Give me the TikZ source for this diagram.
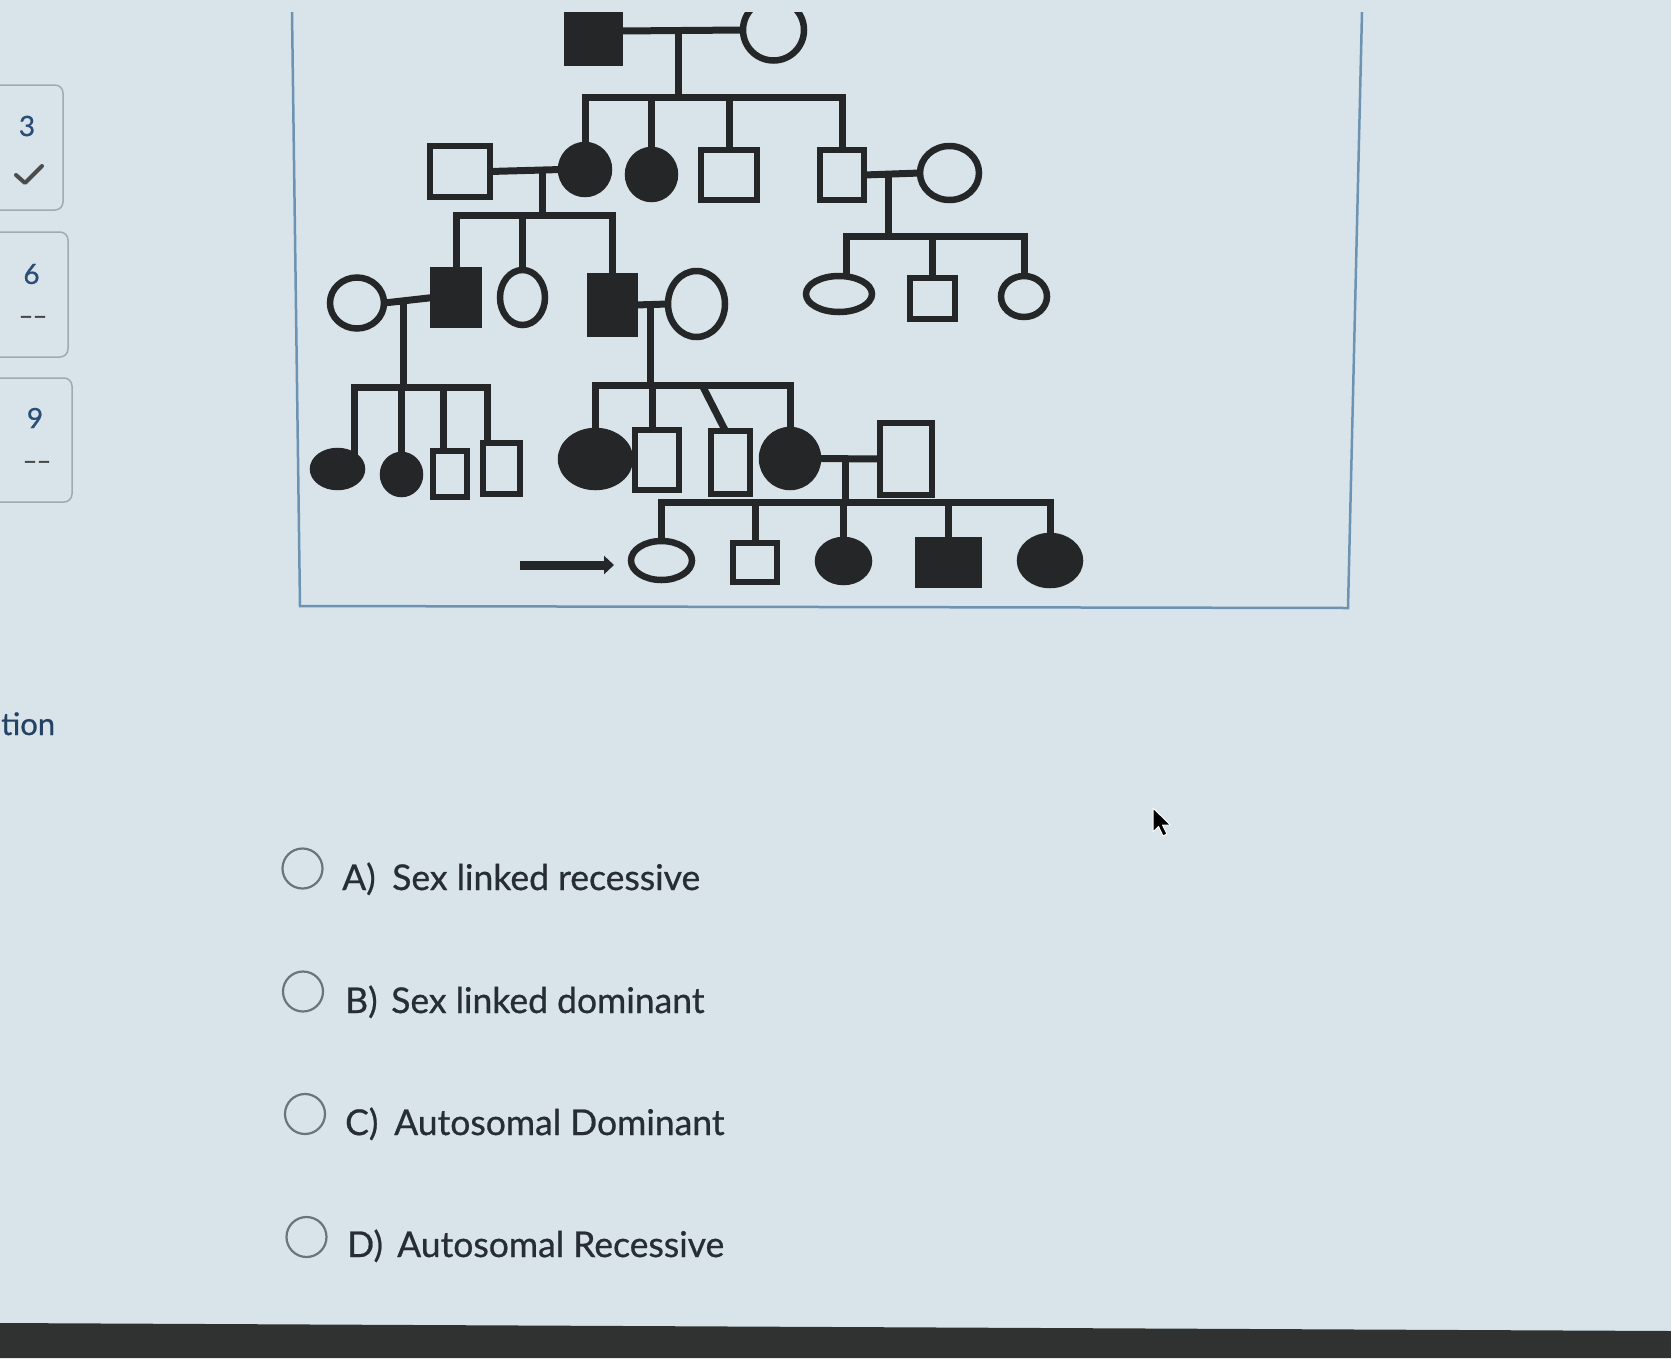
\documentclass[tikz,border=0pt]{standalone}
\usepackage{fontspec}
\setmainfont{Lato}
\newfontfamily\heavyfont[FakeBold=0.7]{Lato}
\newfontfamily\dashfont[FakeBold=2.5]{Lato}
\usetikzlibrary{arrows.meta,shapes.geometric}

\definecolor{screen}{RGB}{217,228,234}
\definecolor{ink}{RGB}{36,38,40}
\definecolor{frameblue}{RGB}{108,148,178}
\definecolor{qtext}{RGB}{38,45,52}
\definecolor{radio}{RGB}{108,116,122}
\definecolor{navnum}{RGB}{42,78,118}
\definecolor{navbox}{RGB}{160,170,176}
\definecolor{bar}{RGB}{47,50,48}

\tikzset{
    sym/.style={draw=ink, line width=6.5pt, inner sep=0pt, outer sep=0pt},
    male/.style={sym, rectangle, fill=screen},
    female/.style={sym, ellipse, fill=screen},
    aff/.style={fill=ink},
    wh/.style 2 args={minimum width=#1pt, minimum height=#2pt},
    ped/.style={draw=ink, line width=7pt},
    proband/.style={draw=ink, line width=9pt, -{Triangle[length=10pt,width=18pt]}},
    radiobtn/.style={draw=radio, line width=2.2pt, circle, minimum size=40pt, inner sep=0pt},
    optlbl/.style={anchor=base west, inner sep=0pt, text=qtext, font=\heavyfont\fontsize{35.5}{42}\selectfont},
    navtxt/.style={inner sep=0pt, text=navnum, font=\heavyfont\fontsize{28}{32}\selectfont},
    navdash/.style={inner sep=0pt, text=black!72, font=\dashfont\fontsize{24}{30}\selectfont}
}

\begin{document}
\begin{tikzpicture}[x=1pt,y=-1pt]
    % Screen
    \fill[screen] (0,0) rectangle (1671,1358);
    \useasboundingbox (0,0) rectangle (1671,1358);
    \fill[bar] (0,1323) -- (1671,1331) -- (1671,1358) -- (0,1358) -- cycle;

    % Side bar
    \draw[navbox, line width=1.5pt, rounded corners=8pt] (-10,85) rectangle (63,210);
    \draw[navbox, line width=1.5pt, rounded corners=8pt] (-10,232) rectangle (68,357);
    \draw[navbox, line width=1.5pt, rounded corners=8pt] (-10,378) rectangle (72,502);
    \node[navtxt] (nThree) at (27,126) {3};
    \draw[black!70, line width=4pt, line cap=round, line join=round] (16,175) -- (25,183) -- (42,166);
    \node[navtxt] (nSix) at (31.5,274) {6};
    \node[navdash] (dSix) at (33,320) {\textendash\textendash};
    \node[navtxt] (nNine) at (35,418) {9};
    \node[navdash] (dNine) at (37,465) {\textendash\textendash};
    \node[anchor=base west, inner sep=0pt, text=navnum!85!black, font=\heavyfont\fontsize{31}{36}\selectfont] (tion) at (1,735) {tion};

    % Pedigree
    \begin{scope}
    \clip (0,12) rectangle (1671,700);
        % frame
        \draw[frameblue, line width=2.5pt] (292,12) -- (300,606) -- (1348,608) -- (1362,12);

        % I
        \node[male, aff, wh={52}{63}] (gIa) at (593.5,31) {};
        \node[female, wh={61}{61}] (gIb) at (773.5,30) {};

        % II
        \node[male, wh={60}{51}] (gIIa) at (460,171.5) {};
        \node[female, aff, wh={48}{49}] (gIIb) at (585,169.5) {};
        \node[female, aff, wh={47}{49}] (gIIc) at (651.5,174.5) {};
        \node[male, wh={56}{50}] (gIId) at (729,175) {};
        \node[male, wh={44}{50}] (gIIe) at (842,175) {};
        \node[female, wh={59}{54}] (gIIf) at (949.5,173) {};

        % III
        \node[female, wh={54}{51}] (gIIIa) at (357,303) {};
        \node[male, aff, wh={46}{55}] (gIIIb) at (456,297.5) {};
        \node[female, wh={45}{55}] (gIIIc) at (522.5,297.5) {};
        \node[male, aff, wh={45}{58}] (gIIId) at (612.5,305) {};
        \node[female, wh={57}{66}] (gIIIe) at (696.5,304) {};
        \node[female, wh={66}{36}] (gIIIf) at (839,294) {};
        \node[male, wh={45}{41}] (gIIIg) at (932.5,298.5) {};
        \node[female, wh={46}{41}] (gIIIh) at (1024,296.5) {};

        % IV
        \node[female, aff, wh={49}{36}] (gIVa) at (337.5,469) {};
        \node[female, aff, wh={37}{39}] (gIVb) at (401.5,474.5) {};
        \node[male, wh={34}{46}] (gIVc) at (450,474) {};
        \node[male, wh={37}{51}] (gIVd) at (501.5,468.5) {};
        \node[female, aff, wh={69}{56}] (gIVe) at (595.5,459) {};
        \node[male, wh={44}{60}] (gIVf) at (657,460) {};
        \node[male, wh={39}{63}] (gIVg) at (730.5,462.5) {};
        \node[female, aff, wh={56}{57}] (gIVh) at (790,458.5) {};
        \node[male, wh={52}{72}] (gIVi) at (906,459) {};

        % V
        \node[female, wh={61}{39}] (gVa) at (661.5,560.5) {};
        \node[male, wh={44}{39}] (gVb) at (755,562.5) {};
        \node[female, aff, wh={51}{42}] (gVc) at (843.5,561) {};
        \node[male, aff, wh={61}{45}] (gVd) at (948.5,562.5) {};
        \node[female, aff, wh={60}{49}] (gVe) at (1050,560.5) {};

        % Matings and descents
        \coordinate (mI) at (678,30.5);    \coordinate (sII) at (678,97);
        \coordinate (mIIa) at (542,170.5); \coordinate (sIIIa) at (542,215);
        \coordinate (mIIb) at (888,174);   \coordinate (sIIIb) at (888,236);
        \coordinate (mIIIa) at (403,300);  \coordinate (sIVa) at (403,387);
        \coordinate (mIIIb) at (650,304.5);\coordinate (sIVb) at (650,385);
        \coordinate (twin) at (702,385);
        \coordinate (mIVa) at (845,458.8); \coordinate (sV) at (845,502);

        \draw[ped] (gIa.east) -- (gIb.west);
        \draw[ped] (mI) -- (sII);
        \foreach \c in {gIIb,gIIc,gIId,gIIe} \draw[ped] (sII) -| (\c.north);

        \draw[ped] (gIIa.east) -- (gIIb.west);
        \draw[ped] (mIIa) -- (sIIIa);
        \foreach \c in {gIIIb,gIIIc,gIIId} \draw[ped] (sIIIa) -| (\c.north);

        \draw[ped] (gIIe.east) -- (gIIf.west);
        \draw[ped] (mIIb) -- (sIIIb);
        \draw[ped] (sIIIb) -| ([xshift=7pt]gIIIf.north);
        \foreach \c in {gIIIg,gIIIh} \draw[ped] (sIIIb) -| (\c.north);

        \draw[ped] (gIIIa.east) -- (gIIIb.west);
        \draw[ped] (mIIIa) -- (sIVa);
        \draw[ped] (sIVa) -| ([xshift=17pt,yshift=-5pt]gIVa.north);
        \draw[ped] (sIVa) -| (gIVb.north);
        \draw[ped] (sIVa) -| ([xshift=-7pt]gIVc.north);
        \draw[ped] (sIVa) -| ([xshift=-14pt]gIVd.north);

        \draw[ped] (gIIId.east) -- (gIIIe.west);
        \draw[ped] (mIIIb) -- (sIVb);
        \draw[ped] (sIVb) -| (gIVe.north);
        \draw[ped] (sIVb) -| ([xshift=-5pt]gIVf.north);
        \draw[ped] (sIVb) -| (gIVh.north);
        \draw[ped] (twin) -- ([xshift=-5pt]gIVg.north);

        \draw[ped] (gIVh.east) -- (gIVi.west);
        \draw[ped] (mIVa) -- (sV);
        \foreach \c in {gVa,gVb,gVc,gVd,gVe} \draw[ped] (sV) -| (\c.north);

        % Proband
        \coordinate (pArr) at (520,565);
        \draw[proband] (pArr) -- ([xshift=-17pt]gVa.west |- pArr);
    \end{scope}

    % Answers
    \node[radiobtn] (rA) at (302.5,868.5) {};
    \node[radiobtn] (rB) at (303,991.5) {};
    \node[radiobtn] (rC) at (305,1114) {};
    \node[radiobtn] (rD) at (306.5,1237) {};
    \node[optlbl] (lA) at (342,890) {A)};
    \node[optlbl] (tA) at (392,890) {Sex linked recessive};
    \node[optlbl] (lB) at (345,1013) {B)};
    \node[optlbl] (tB) at (391,1013) {Sex linked dominant};
    \node[optlbl] (lC) at (345,1135) {C)};
    \node[optlbl] (tC) at (394,1135) {Autosomal Dominant};
    \node[optlbl] (lD) at (347,1257) {D)};
    \node[optlbl] (tD) at (397,1257) {Autosomal Recessive};

    % Pointer
    \filldraw[fill=black, draw=white, line width=1pt, line join=round] (1153,808) -- ++(0,24) -- ++(5.5,-5.5) -- ++(4.5,9.5) -- ++(4,-2) -- ++(-4.5,-9) -- ++(8,0) -- cycle;
\end{tikzpicture}
\end{document}
